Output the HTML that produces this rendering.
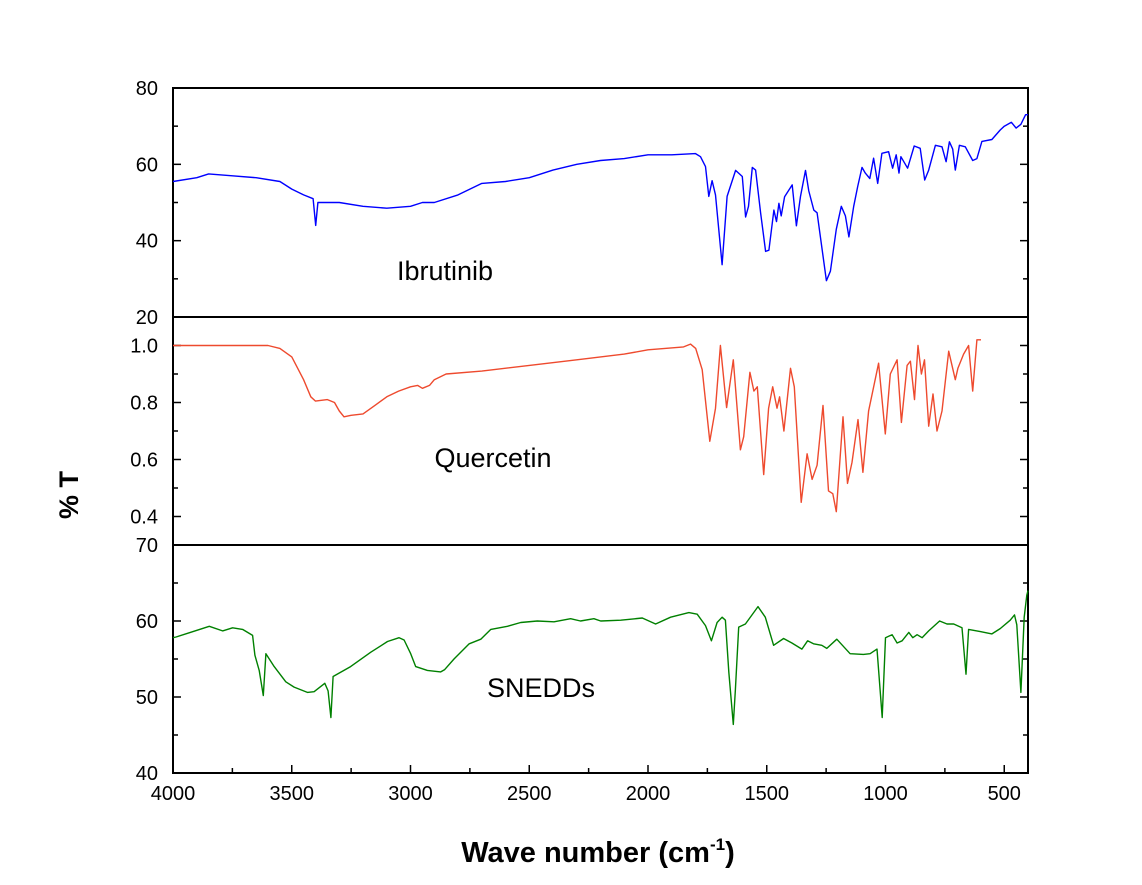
<!DOCTYPE html>
<html><head><meta charset="utf-8"><style>
body{margin:0;background:#fff;}
svg text{font-family:"Liberation Sans",Arial,sans-serif;}
</style></head><body>
<svg id="chart" width="1142" height="880" xmlns="http://www.w3.org/2000/svg">
<rect width="1142" height="880" fill="#fff"/>
<g id="axes"></g>
<g id="series"></g>
<text x="0" y="0" transform="translate(78,495) rotate(-90)" text-anchor="middle" font-size="27" font-weight="bold">% T</text>
<text x="598" y="862" text-anchor="middle" font-size="29" font-weight="bold">Wave number (cm<tspan dy="-12" font-size="17">-1</tspan><tspan dy="12">)</tspan></text>
<text x="445" y="280" text-anchor="middle" font-size="27">Ibrutinib</text>
<text x="493" y="467" text-anchor="middle" font-size="27">Quercetin</text>
<text x="541" y="697" text-anchor="middle" font-size="27">SNEDDs</text>
</svg>
<script>
const xTicks=[4000,3500,3000,2500,2000,1500,1000,500];
const ibruWn=[4000,3900,3850,3750,3650,3550,3500,3450,3410,3399,3390,3300,3200,3100,3000,2950,2900,2800,2700,2600,2500,2400,2300,2200,2100,2000,1947,1900,1800,1779,1758,1744,1730,1716,1688,1667,1631,1603,1589,1577,1561,1547,1526,1505,1491,1470,1459,1449,1439,1425,1393,1375,1358,1337,1323,1302,1288,1249,1232,1207,1186,1169,1154,1134,1117,1099,1085,1066,1050,1033,1015,987,970,955,943,935,907,879,854,835,818,790,762,745,731,717,706,689,664,633,615,594,552,517,500,470,450,430,410,400];
const ibruVal=[55.5,56.5,57.5,57,56.5,55.5,53.5,52,51,44,50,50,49,48.5,49,50,50,52,55,55.5,56.5,58.5,60,61,61.5,62.5,62.5,62.5,62.8,62,59.4,51.6,55.7,52,33.7,51.6,58.4,56.8,46.2,49,59.2,58.5,47.3,37.2,37.5,48,45,49.8,46.5,51.5,54.6,43.9,51.6,58.4,53,48,47.3,29.5,32,43,49,46.5,41,49,54.2,59.2,57.7,56.3,61.6,55,62.9,63.3,59,62.5,57.7,62,59,64.8,64.2,55.9,58.5,65,64.6,60.7,65.9,64,58.5,65,64.6,61,61.5,66,66.5,69,70,71,69.5,70.5,73,73];
const querWn=[4000,3600,3550,3500,3450,3420,3400,3350,3320,3300,3280,3250,3200,3150,3100,3050,3000,2970,2950,2920,2900,2850,2700,2500,2300,2100,2000,1850,1821,1799,1772,1740,1716,1695,1669,1641,1611,1597,1571,1554,1540,1513,1492,1475,1457,1446,1428,1400,1384,1355,1330,1309,1288,1263,1240,1222,1207,1179,1160,1141,1116,1095,1071,1029,1001,980,951,933,909,895,878,863,849,836,818,800,783,762,734,706,695,671,650,633,615,598];
const querVal=[1.0,1.0,0.99,0.96,0.88,0.82,0.805,0.81,0.80,0.77,0.75,0.755,0.76,0.79,0.82,0.84,0.855,0.86,0.85,0.86,0.88,0.90,0.91,0.93,0.95,0.97,0.985,0.995,1.005,0.99,0.915,0.664,0.78,1.0,0.782,0.95,0.634,0.68,0.906,0.84,0.855,0.547,0.78,0.855,0.78,0.82,0.70,0.92,0.855,0.45,0.62,0.53,0.58,0.79,0.49,0.48,0.417,0.75,0.516,0.59,0.74,0.555,0.77,0.938,0.69,0.9,0.95,0.73,0.93,0.945,0.81,1.0,0.9,0.95,0.717,0.83,0.70,0.77,0.98,0.88,0.92,0.97,1.0,0.84,1.02,1.02];
const sneWn=[4000,3987,3927,3847,3791,3749,3707,3665,3655,3637,3620,3609,3574,3525,3490,3434,3406,3361,3347,3335,3326,3252,3167,3097,3048,3027,2999,2978,2929,2873,2856,2817,2753,2704,2662,2592,2536,2466,2396,2326,2284,2228,2199,2115,2024,1968,1905,1828,1793,1758,1733,1709,1688,1674,1660,1641,1632,1618,1590,1537,1506,1471,1429,1394,1352,1328,1303,1268,1247,1205,1149,1093,1065,1036,1014,1000,972,951,930,902,885,867,846,818,772,741,713,678,661,650,601,552,517,475,457,447,430,416,405,400];
const sneVal=[57.8,57.9,58.5,59.3,58.7,59.1,58.9,58.1,55.5,53.5,50.2,55.7,54,52,51.3,50.6,50.7,51.8,50.8,47.3,52.7,54,55.9,57.3,57.8,57.5,55.7,54,53.5,53.3,53.6,55,57,57.6,58.9,59.3,59.8,60,59.9,60.3,60,60.3,60,60.1,60.4,59.6,60.5,61.1,60.9,59.4,57.4,59.8,60.5,60.1,53.3,46.4,51,59.2,59.6,61.9,60.5,56.8,57.7,57.1,56.3,57.4,57,56.8,56.4,57.6,55.7,55.6,55.7,56.3,47.3,57.8,58.2,57.1,57.4,58.5,57.8,58.2,57.8,58.7,60,59.6,59.6,59.1,53,58.9,58.6,58.3,59,60.1,60.8,59.5,50.6,60.5,63.4,64];
const ibruTicks=[80,60,40,20];
const querTicks=[1.0,0.8,0.6,0.4];
const querTickLabels=["1.0","0.8","0.6","0.4"];
const sneTicks=[70,60,50,40];

const X0=173,X1=1028;
const xs=w=>X0+(4000-w)/(4000-400)*(X1-X0);
const NS='http://www.w3.org/2000/svg';
const axes=document.getElementById('axes'),ser=document.getElementById('series');
function mk(tag,attrs,parent){const e=document.createElementNS(NS,tag);for(const k in attrs)e.setAttribute(k,attrs[k]);parent.appendChild(e);return e;}
const panels=[
 {name:'ibrutinib',top:88,bot:317,min:20,max:80,major:20,minor:10,ticks:ibruTicks,labels:ibruTicks.map(String),wn:ibruWn,val:ibruVal,color:'#0000ff'},
 {name:'quercetin',top:317,bot:545,min:0.3,max:1.1,major:0.2,minor:0.1,ticks:querTicks,labels:querTickLabels,wn:querWn,val:querVal,color:'#ee4a2e'},
 {name:'snedds',top:545,bot:773,min:40,max:70,major:10,minor:5,ticks:sneTicks,labels:sneTicks.map(String),wn:sneWn,val:sneVal,color:'#008000'}
];
panels.forEach(p=>{
 const ys=v=>p.bot-(v-p.min)/(p.max-p.min)*(p.bot-p.top);
 const fr=mk('rect',{x:X0,y:p.top,width:X1-X0,height:p.bot-p.top,fill:'none',stroke:'#000','stroke-width':2},axes);
 
 
 for(let v=p.min;v<=p.max+1e-9;v+=p.minor){
  const isMaj=Math.abs(v/p.major-Math.round(v/p.major))<1e-6;
  const L=isMaj?8:5,y=ys(v);
  mk('line',{x1:X0,y1:y,x2:X0+L,y2:y,stroke:'#000','stroke-width':1.5},axes);
  mk('line',{x1:X1,y1:y,x2:X1-L,y2:y,stroke:'#000','stroke-width':1.5},axes);
 }
 p.ticks.forEach((t,i)=>{
  const tx=mk('text',{x:158,y:ys(t)+7,'text-anchor':'end','font-size':20},axes);
  
  
  tx.textContent=p.labels[i];
 });
 const d=p.wn.map((w,i)=>(i?'L':'M')+xs(w).toFixed(1)+','+ys(p.val[i]).toFixed(1)).join('');
 const path=mk('path',{d:d,fill:'none',stroke:p.color,'stroke-width':1.4,'stroke-linejoin':'round'},ser);
 
 
});
for(let w=4000;w>=500;w-=250){
 const maj=w%500===0,x=xs(w);
 mk('line',{x1:x,y1:773,x2:x,y2:773-(maj?8:5),stroke:'#000','stroke-width':1.5},axes);
}
xTicks.forEach(w=>{
 const t=mk('text',{x:xs(w),y:800,'text-anchor':'middle','font-size':20},axes);
 
 
 t.textContent=w;
});
</script>
</body></html>
